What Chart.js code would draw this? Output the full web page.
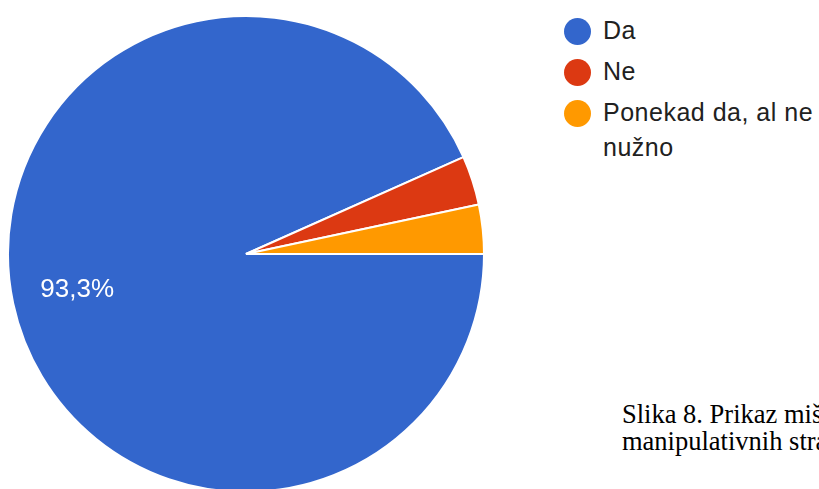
<!DOCTYPE html>
<html>
<head>
<meta charset="utf-8">
<script src="https://cdn.jsdelivr.net/npm/chart.js@4"></script>
<style>
  html, body { margin: 0; padding: 0; background: #fff; }
  body { width: 819px; height: 489px; overflow: hidden; position: relative; }
  #pieChart { position: absolute; left: 7px; top: 15px; }
  #legend { position: absolute; left: 564px; top: 13px; font-family: "Liberation Sans", Arial, sans-serif; font-size: 25px; letter-spacing: 0.5px; color: #212121; }
  .item { position: relative; padding-left: 39px; line-height: 35px; margin-bottom: 6px; width: 240px; }
  .dot { position: absolute; left: 0; top: 5px; width: 27px; height: 27px; border-radius: 50%; }
  #caption { position: absolute; left: 622px; top: 401px; font-family: "Liberation Serif", "Times New Roman", serif; font-size: 26.5px; line-height: 27px; color: #000; white-space: nowrap; }
</style>
</head>
<body>
<canvas id="pieChart" width="478" height="478"></canvas>
<div id="legend"></div>
<div id="caption">Slika 8. Prikaz mišljenja o korištenju<br>manipulativnih strategija</div>
<script>
  const labels = ['Da', 'Ne', 'Ponekad da, al ne nužno'];
  const values = [28, 1, 1];
  const colors = ['#3366cc', '#dc3912', '#ff9900'];

  // legend next to the pie
  const legend = document.getElementById('legend');
  labels.forEach((text, i) => {
    const item = document.createElement('div');
    item.className = 'item';
    item.innerHTML = `<span class="dot" style="background:${colors[i]}"></span>${text}`;
    legend.appendChild(item);
  });

  // percentage text inside the big slices
  const sliceLabels = {
    id: 'sliceLabels',
    afterDatasetsDraw(chart) {
      const ctx = chart.ctx;
      const total = values.reduce((a, b) => a + b, 0);
      chart.getDatasetMeta(0).data.forEach((arc, i) => {
        const share = values[i] / total;
        if (share < 0.1) return;
        const mid = (arc.startAngle + arc.endAngle) / 2;
        const r = arc.outerRadius * 0.725;
        const txt = (share * 100).toFixed(1).replace('.', ',') + '%';
        ctx.save();
        ctx.fillStyle = '#fff';
        ctx.font = '26px "Liberation Sans", Arial, sans-serif';
        ctx.textAlign = 'center';
        ctx.textBaseline = 'middle';
        ctx.fillText(txt, arc.x + Math.cos(mid) * r, arc.y + Math.sin(mid) * r);
        ctx.restore();
      });
    }
  };

  new Chart(document.getElementById('pieChart'), {
    type: 'pie',
    data: {
      labels,
      datasets: [{
        data: values,
        backgroundColor: colors,
        borderColor: '#fff',
        borderWidth: 2
      }]
    },
    options: {
      responsive: false,
      animation: false,
      rotation: 90,
      layout: { padding: 0 },
      plugins: {
        legend: { display: false },
        tooltip: { enabled: false }
      }
    },
    plugins: [sliceLabels]
  });
</script>
</body>
</html>
